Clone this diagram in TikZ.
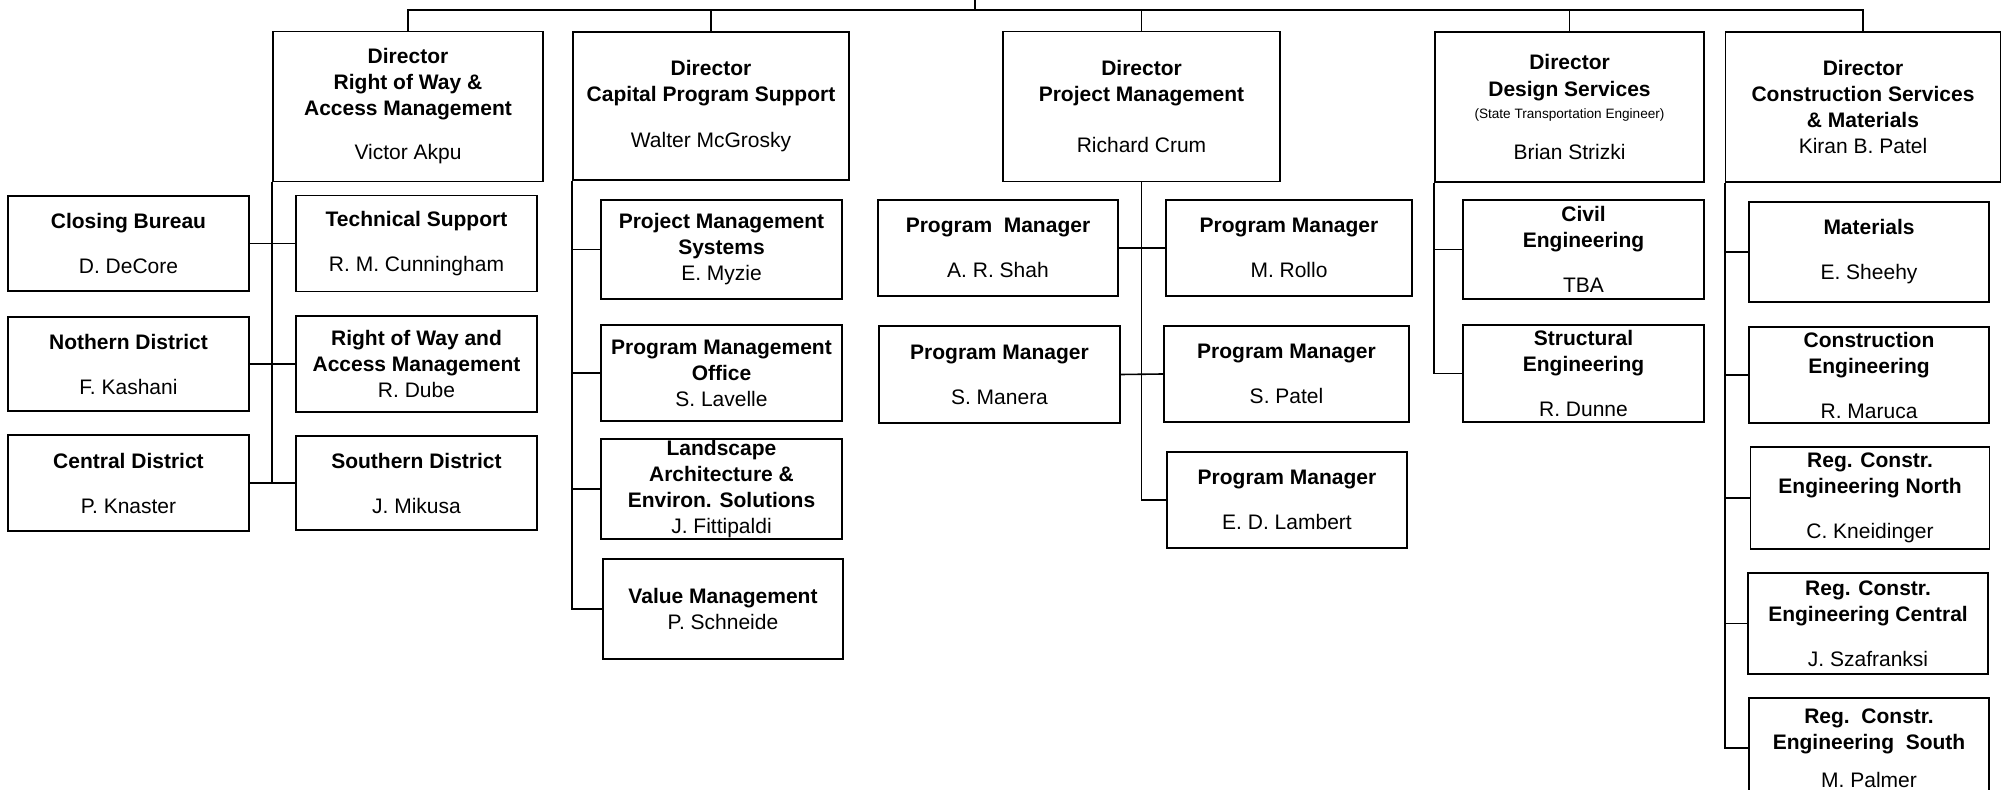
\documentclass[tikz,border=0pt]{standalone}
\usepackage{fontspec}
\setmainfont{Liberation Sans}
\tikzset{
  box/.style={draw, line width=0.8pt, align=center, inner sep=0pt, font=\fontsize{10.5}{13}\selectfont\bfseries},
  unit/.style={box, minimum width=120.5pt, minimum height=48pt},
  link/.style={line width=0.8pt},
}
\newcommand{\nm}[1]{\textmd{#1}}
\newcommand{\gp}{\\[9.5pt]}
\begin{document}
\begin{tikzpicture}[x=0.5pt, y=-0.5pt]
\useasboundingbox (0,0) rectangle (2002,790);
\clip (0,0) rectangle (2002,790);
  % Define the nodes
\coordinate (top) at (975,0);
\coordinate (bus) at (975,10);
\node[box, minimum width=135pt, minimum height=75pt] at (408,106.5) (rowdir) {Director\\Right of Way \&\\Access Management\\[9pt]\nm{Victor Akpu}};
\node[box, minimum width=138pt, minimum height=74pt] at (711,106) (cpsdir) {Director\\Capital Program Support\\[10pt]\nm{Walter McGrosky}};
\node[box, minimum width=138.5pt, minimum height=75pt] at (1141.5,106.5) (pmdir) {Director\\Project Management\\[12.5pt]\nm{Richard Crum}};
\node[box, minimum width=134.5pt, minimum height=75pt] at (1569.5,107) (dsdir) {Director\\Design Services\\[-2pt]{\fontsize{6.8}{8}\selectfont\mdseries (State Transportation Engineer)}\\[7.5pt]\nm{Brian Strizki}};
\node[box, minimum width=137.5pt, minimum height=75pt] at (1863,107) (csmdir) {Director\\Construction Services\\\& Materials\\\nm{Kiran B. Patel}};
% right of way units
\node[unit, minimum height=47.5pt] at (128.5,243.5) (closing) {Closing Bureau\gp\nm{D. DeCore}};
\node[unit] at (416.5,243.5) (techsup) {Technical Support\gp\nm{R. M. Cunningham}};
\node[unit, minimum height=47pt] at (128.5,364) (northern) {Nothern District\gp\nm{F. Kashani}};
\node[unit] at (416.5,364) (rowaccess) {Right of Way and\\Access Management\\\nm{R. Dube}};
\node[unit] at (128.5,483) (central) {Central District\gp\nm{P. Knaster}};
\node[unit, minimum height=47pt] at (416.5,483) (southern) {Southern District\gp\nm{J. Mikusa}};
% capital program units
\node[unit, minimum height=49.5pt] at (721.5,249.5) (pmsys) {Project Management\\Systems\\\nm{E. Myzie}};
\node[unit] at (721.5,373) (pmoffice) {Program Management\\Office\\\nm{S. Lavelle}};
\node[unit, minimum height=50pt] at (721.5,489) (landscape) {Landscape\\Architecture \&\\Environ. Solutions\\\nm{J. Fittipaldi}};
\node[unit, minimum width=120pt, minimum height=50pt] at (723,609) (valuemgmt) {Value Management\\\nm{P. Schneide}};
% program managers
\node[unit, minimum width=120pt] at (998,248) (pmshah) {Program\ \ Manager\gp\nm{A. R. Shah}};
\node[unit, minimum width=123pt] at (1289,248) (pmrollo) {Program Manager\gp\nm{M. Rollo}};
\node[unit, minimum height=48.5pt] at (999.5,374.5) (pmmanera) {Program Manager\gp\nm{S. Manera}};
\node[unit, minimum width=122.5pt] at (1286.5,374) (pmpatel) {Program Manager\gp\nm{S. Patel}};
\node[unit, minimum width=120pt] at (1287,500) (pmlambert) {Program Manager\gp\nm{E. D. Lambert}};
% design units
\node[unit, minimum height=49.5pt] at (1583.5,249.5) (civil) {Civil\\Engineering\gp\nm{TBA}};
\node[unit, minimum height=48.5pt] at (1583.5,373.5) (structural) {Structural\\Engineering\gp\nm{R. Dunne}};
% construction units
\node[unit, minimum width=120pt, minimum height=50pt] at (1869,252) (materials) {Materials\gp\nm{E. Sheehy}};
\node[unit, minimum width=120pt] at (1869,375) (constreng) {Construction\\Engineering\gp\nm{R. Maruca}};
\node[unit, minimum width=119.5pt, minimum height=51pt] at (1870,498) (regnorth) {Reg. Constr.\\Engineering North\gp\nm{C. Kneidinger}};
\node[unit, minimum width=120pt, minimum height=50.5pt] at (1868,623.5) (regcentral) {Reg. Constr.\\Engineering Central\gp\nm{J. Szafranksi}};
\node[unit, minimum width=120pt, minimum height=50pt] at (1869,748) (regsouth) {Reg.\ \ Constr.\\Engineering\ \ South\\[6pt]\nm{M. Palmer}};
% Draw the paths
\draw[link] (top) -- (bus);
\draw[link] (rowdir.north) |- (bus) -| (csmdir.north);
\foreach \d in {cpsdir,pmdir,dsdir} \draw[link] (\d.north) -- (\d.north |- bus);
\draw[link] (rowdir.south west) -- (rowdir.south west |- central.east);
\foreach \l/\r in {closing/techsup,northern/rowaccess,central/southern} \draw[link] (\l.east) -- (\r.west);
\foreach \n in {pmsys,pmoffice,landscape,valuemgmt} \draw[link] (cpsdir.south west) |- (\n.west);
\draw[link] (pmdir.south) |- (pmlambert.west);
\foreach \l/\r in {pmshah/pmrollo,pmmanera/pmpatel} \draw[link] (\l.east) -- (\r.west);
\foreach \n in {civil,structural} \draw[link] (dsdir.south west) |- (\n.west);
\foreach \n in {materials,constreng,regnorth,regcentral,regsouth} \draw[link] (csmdir.south west) |- (\n.west);
\end{tikzpicture}
\end{document}
